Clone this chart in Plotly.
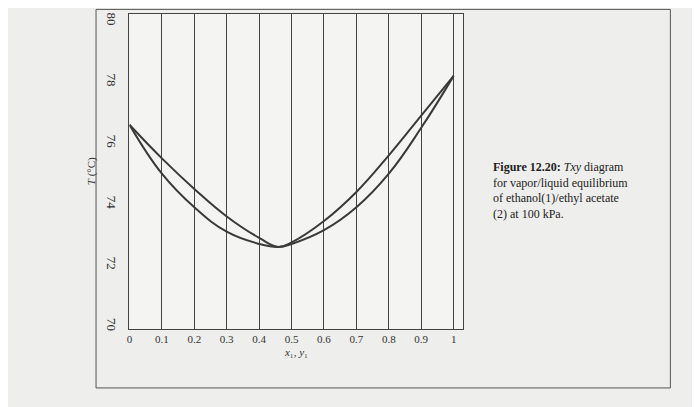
import plotly.graph_objects as go

x_vals = [0, 0.1, 0.2, 0.3, 0.4, 0.46, 0.5, 0.6, 0.7, 0.8, 0.9, 1.0]
t_bubble = [76.6, 75.0, 73.9, 73.1, 72.7, 72.6, 72.7, 73.15, 73.9, 75.0, 76.5, 78.2]
t_dew = [76.6, 75.5, 74.5, 73.6, 72.9, 72.6, 72.75, 73.45, 74.4, 75.6, 76.9, 78.2]
x_ticks = [0, 0.1, 0.2, 0.3, 0.4, 0.5, 0.6, 0.7, 0.8, 0.9, 1]
x_ticklabels = ["0", "0.1", "0.2", "0.3", "0.4", "0.5", "0.6", "0.7", "0.8", "0.9", "1"]
y_ticks = [70, 72, 74, 76, 78, 80]

fig = go.Figure()
for t in (t_bubble, t_dew):
    fig.add_trace(go.Scatter(x=x_vals, y=t, mode="lines",
                             line=dict(color="#3a3a3a", width=2, shape="spline", smoothing=1.2), showlegend=False))

fnt = dict(family="Liberation Serif", size=11, color="#333")
fig.update_layout(
    width=700, height=407, margin=dict(l=0, r=0, t=0, b=0),
    paper_bgcolor="#eeeeec", plot_bgcolor="#f4f4f2",
    xaxis=dict(domain=[0.170, 0.649], range=[0, 1.03], tickvals=x_ticks, ticktext=x_ticklabels,
               showgrid=True, gridcolor="#444", gridwidth=1.3, zeroline=False, showline=True, mirror=True,
               linecolor="#444", tickfont=fnt, ticks="", title=dict(text="<i>x</i>₁, <i>y</i>₁", font=fnt, standoff=4)),
    yaxis=dict(domain=[0.209, 0.988], range=[69.93, 80.23], tickvals=y_ticks, showgrid=False, zeroline=False,
               showline=True, mirror=True, linecolor="#444", tickfont=dict(family="Liberation Serif", size=13, color="#333"),
               tickangle=90, ticks="", ticklabelstandoff=6,
               title=dict(text="<i>T</i> (°C)", font=fnt, standoff=6)),
    shapes=[dict(type="rect", xref="paper", yref="paper", x0=0.122, x1=0.946, y0=0.062, y1=0.999,
                 line=dict(color="#555", width=1))],
    annotations=[dict(xref="paper", yref="paper", x=0.689, y=0.63, xanchor="left", yanchor="top", align="left",
                      showarrow=False, font=dict(family="Liberation Serif", size=12, color="#222"),
                      text="<b>Figure 12.20:</b> <i>Txy</i> diagram<br>for vapor/liquid equilibrium<br>of ethanol(1)/ethyl acetate<br>(2) at 100 kPa.")],
)
fig.write_html("out.html")
